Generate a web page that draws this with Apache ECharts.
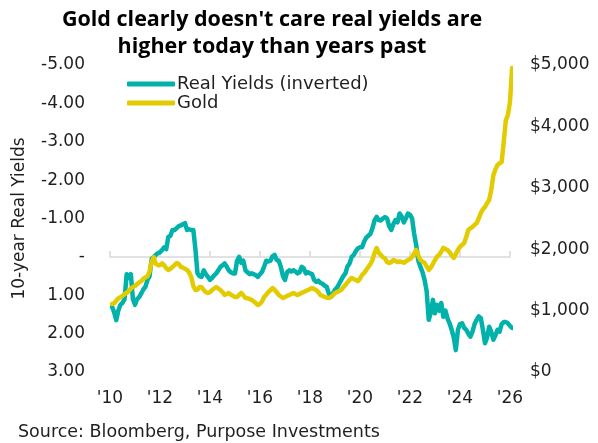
<!DOCTYPE html>
<html>
<head>
<meta charset="utf-8">
<script src="https://cdn.jsdelivr.net/npm/echarts@6/dist/echarts.min.js"></script>
<style>
  html, body { margin: 0; padding: 0; background: #fff; }
  #chart { width: 598px; height: 443px; }
</style>
</head>
<body>
<div id="chart"></div>
<script>
// Monthly month-end observations, January 2010 through January 2026
const startYear = 2010;

// US 10-year real yield (TIPS), percent
const realYields = [
  1.30, 1.45, 1.65, 1.40, 1.25, 1.20, 1.10, 0.45, 0.55, 0.45, 1.10, 1.25,   // 2010
  1.10, 1.05, 0.95, 0.85, 0.78, 0.60, 0.50, 0.05, 0.00, -0.05, -0.10, -0.12, // 2011
  -0.18, -0.25, -0.20, -0.52, -0.55, -0.70, -0.70, -0.75, -0.80, -0.82, -0.85, -0.88, // 2012
  -0.70, -0.72, -0.70, -0.70, -0.20, 0.43, 0.50, 0.52, 0.35, 0.45, 0.52, 0.60, // 2013
  0.55, 0.48, 0.43, 0.35, 0.26, 0.22, 0.17, 0.25, 0.35, 0.40, 0.43, 0.43,    // 2014
  0.10, 0.00, 0.15, 0.10, 0.35, 0.40, 0.45, 0.43, 0.45, 0.48, 0.52, 0.45,    // 2015
  0.39, 0.25, 0.10, 0.12, 0.10, -0.02, -0.05, 0.08, 0.10, 0.26, 0.50, 0.60,  // 2016
  0.40, 0.35, 0.38, 0.35, 0.38, 0.43, 0.40, 0.26, 0.30, 0.43, 0.40, 0.43,    // 2017
  0.45, 0.60, 0.65, 0.62, 0.68, 0.70, 0.75, 0.78, 0.95, 1.04, 0.95, 0.86,    // 2018
  0.80, 0.70, 0.60, 0.50, 0.43, 0.25, 0.17, 0.00, -0.05, -0.15, -0.22, -0.25, // 2019
  -0.25, -0.40, -0.50, -0.55, -0.60, -0.75, -0.95, -1.04, -0.96, -0.95, -1.00, -1.04, // 2020
  -1.00, -0.80, -0.70, -0.85, -0.96, -0.90, -1.13, -1.05, -0.90, -1.00, -1.13, -1.10, // 2021
  -1.00, -0.60, -0.30, 0.10, 0.26, 0.40, 0.60, 0.90, 1.64, 1.45, 1.12, 1.47, // 2022
  1.25, 1.40, 1.20, 1.56, 1.40, 1.60, 1.73, 1.90, 2.10, 2.43, 1.90, 1.75,    // 2023
  1.73, 1.85, 1.90, 2.00, 2.08, 1.95, 1.75, 1.64, 1.55, 1.60, 1.90, 2.25,    // 2024
  2.10, 1.82, 1.95, 2.16, 2.05, 1.90, 1.95, 1.75, 1.70, 1.70, 1.73, 1.80,    // 2025
  1.85                                                                       // 2026
];

// Gold spot price, USD per ounce
const goldPrice = [
  1110, 1120, 1160, 1200, 1220, 1240, 1270, 1290, 1320, 1360, 1385, 1400,   // 2010
  1430, 1460, 1480, 1520, 1540, 1560, 1640, 1800, 1870, 1760, 1740, 1740,   // 2011
  1770, 1740, 1690, 1662, 1680, 1711, 1740, 1776, 1760, 1711, 1700, 1680,   // 2012
  1662, 1620, 1548, 1400, 1336, 1340, 1385, 1380, 1336, 1300, 1287, 1300,   // 2013
  1336, 1360, 1385, 1360, 1336, 1300, 1254, 1270, 1287, 1260, 1240, 1222,   // 2014
  1222, 1260, 1287, 1250, 1205, 1200, 1190, 1173, 1150, 1120, 1091, 1110,   // 2015
  1150, 1222, 1260, 1303, 1330, 1368, 1340, 1300, 1254, 1230, 1205, 1220,   // 2016
  1240, 1254, 1270, 1287, 1270, 1254, 1270, 1290, 1303, 1320, 1336, 1350,   // 2017
  1368, 1350, 1336, 1300, 1254, 1240, 1222, 1210, 1205, 1220, 1250, 1287,   // 2018
  1300, 1320, 1336, 1380, 1417, 1460, 1499, 1531, 1515, 1499, 1480, 1520,   // 2019
  1580, 1613, 1660, 1711, 1760, 1825, 1940, 2020, 1939, 1906, 1870, 1850,   // 2020
  1790, 1776, 1790, 1825, 1810, 1792, 1800, 1792, 1780, 1800, 1825, 1840,   // 2021
  1873, 1930, 1987, 1900, 1825, 1800, 1776, 1720, 1662, 1700, 1760, 1825,   // 2022
  1880, 1906, 1960, 2020, 2000, 1987, 1950, 1900, 1857, 1920, 1987, 2040,   // 2023
  2070, 2101, 2200, 2313, 2340, 2362, 2400, 2427, 2500, 2590, 2650, 2688,   // 2024
  2750, 2802, 2965, 3200, 3300, 3372, 3400, 3421, 3747, 4100, 4187, 4400,   // 2025
  4950                                                                      // 2026
];

// Axis ticks
const yearTicks = [2010, 2012, 2014, 2016, 2018, 2020, 2022, 2024, 2026];
const yieldTicks = [-5, -4, -3, -2, -1, 0, 1, 2, 3];
const goldTicks = [0, 1000, 2000, 3000, 4000, 5000];

const TEAL = '#00B2A9';
const GOLD = '#E2CB00';
const FONT = '"DejaVu Sans", "Noto Sans", sans-serif';
const TEXT = '#1f1f1f';

// month-end position on a decimal-year scale
const monthPos = i => startYear + (i + 1) / 12;
const yieldData = realYields.map((v, i) => [monthPos(i), v]);
const goldData = goldPrice.map((v, i) => [monthPos(i), v]);

const chart = echarts.init(document.getElementById('chart'), null, { renderer: 'canvas' });

const xMin = yearTicks[0], xMax = yearTicks[yearTicks.length - 1];

chart.setOption({
  animation: false,
  backgroundColor: '#fff',
  textStyle: { fontFamily: FONT },
  graphic: [
    {
      type: 'text', x: 272, y: 6,
      style: {
        text: "Gold clearly doesn't care real yields are\nhigher today than years past",
        textAlign: 'center', fill: '#000',
        font: 'bold 21.5px "Open Sans", sans-serif', lineHeight: 27
      }
    },
    {
      type: 'text', x: 18, y: 423,
      style: {
        text: 'Source: Bloomberg, Purpose Investments',
        fill: TEXT, font: '17.5px "DejaVu Sans", sans-serif'
      }
    }
  ],
  legend: {
    orient: 'vertical', left: 122, top: 70,
    itemWidth: 48, itemHeight: 5, itemGap: 1,
    icon: 'roundRect',
    data: ['Real Yields (inverted)', 'Gold'],
    textStyle: { fontSize: 18, color: TEXT, fontFamily: FONT, padding: [0, 0, 0, -3] }
  },
  grid: { left: 110, right: 88, top: 65, bottom: 71 },
  xAxis: [
    {
      type: 'value', min: xMin, max: xMax, interval: 2,
      axisLine: { show: false }, axisTick: { show: false }, splitLine: { show: false },
      axisLabel: {
        margin: 18, fontSize: 17, color: TEXT, fontFamily: FONT,
        formatter: v => "'" + String(v).slice(2)
      }
    },
    {
      type: 'value', min: xMin, max: xMax, interval: 2,
      position: 'bottom',
      axisLine: { show: true, onZero: true, onZeroAxisIndex: 0, lineStyle: { color: '#D9D9D9', width: 1.5 } },
      axisTick: { show: true, inside: true, length: 6, lineStyle: { color: '#D9D9D9', width: 1.5 } },
      axisLabel: { show: false }, splitLine: { show: false }
    }
  ],
  yAxis: [
    {
      type: 'value', inverse: true,
      min: yieldTicks[0], max: yieldTicks[yieldTicks.length - 1], interval: 1,
      name: '10-year Real Yields', nameLocation: 'middle', nameGap: 82, nameRotate: 90,
      nameTextStyle: { fontSize: 17, color: TEXT, fontFamily: FONT },
      axisLine: { show: false }, axisTick: { show: false }, splitLine: { show: false },
      axisLabel: {
        margin: 25, fontSize: 17, color: TEXT, fontFamily: FONT,
        formatter: v => v === 0 ? '-' : v.toFixed(2)
      }
    },
    {
      type: 'value', position: 'right',
      min: goldTicks[0], max: goldTicks[goldTicks.length - 1], interval: 1000,
      axisLine: { show: false }, axisTick: { show: false }, splitLine: { show: false },
      axisLabel: {
        margin: 20, fontSize: 17, color: TEXT, fontFamily: FONT,
        formatter: v => '$' + v.toLocaleString('en-US')
      }
    }
  ],
  series: [
    {
      name: 'Real Yields (inverted)', type: 'line', xAxisIndex: 0, yAxisIndex: 0,
      data: yieldData, showSymbol: false, color: TEAL,
      lineStyle: { width: 4.5, color: TEAL, join: 'round', cap: 'round' }
    },
    {
      name: 'Gold', type: 'line', xAxisIndex: 0, yAxisIndex: 1,
      data: goldData, showSymbol: false, color: GOLD,
      lineStyle: { width: 4.5, color: GOLD, join: 'round', cap: 'round' }
    }
  ]
});
</script>
</body>
</html>
